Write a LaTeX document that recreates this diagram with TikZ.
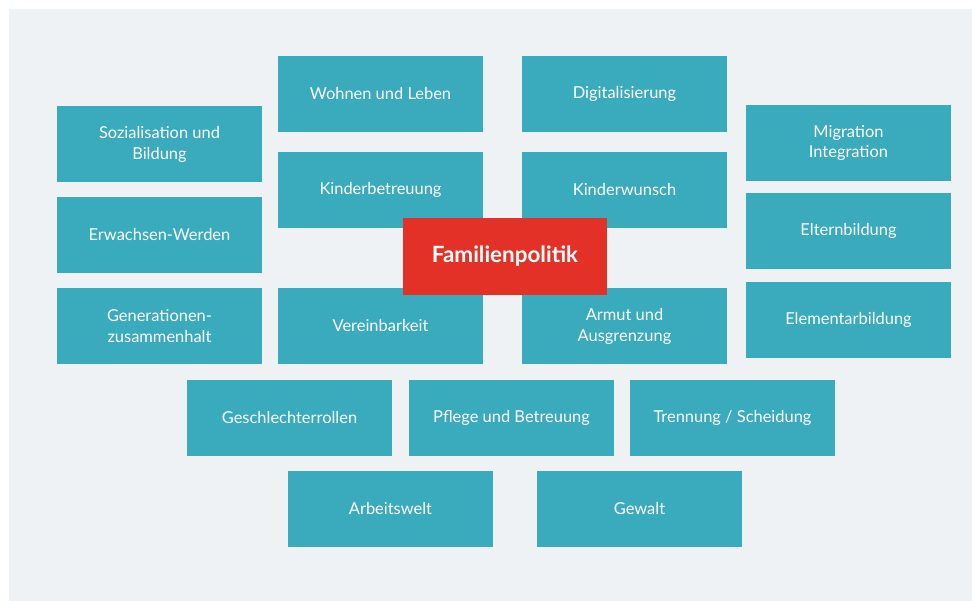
\documentclass[tikz,border=0pt]{standalone}
\usepackage{fontspec}
\setmainfont{Lato}
\usetikzlibrary{positioning}
\definecolor{famteal}{HTML}{3AAABD}
\definecolor{famred}{HTML}{E33127}
\definecolor{fambg}{HTML}{EEF2F5}

\begin{document}
\begin{tikzpicture}[x=1bp, y=-1bp,
		font=\fontsize{16.5}{21}\selectfont,
		topic/.style={fill=famteal, text=white, align=center, inner sep=0pt,
				minimum width=205bp, minimum height=76bp},
		core/.style={fill=famred, text=white, inner sep=0pt,
				minimum width=204bp, minimum height=77bp,
				font=\fontsize{22.5}{26}\selectfont\bfseries}]
	\useasboundingbox (0,0) rectangle (972,601);
	\fill[fambg] (9,9) rectangle (972,601);

	% left column
	\node[topic] (soz) at (159.5, 144) {Sozialisation und\\Bildung};
	\node[topic] (erw) at (159.5, 235) {Erwachsen-Werden};
	\node[topic] (gen) at (159.5, 326) {Generationen-\\zusammenhalt};

	% inner columns
	\node[topic] (wohnen) at (380.5, 94) {Wohnen und Leben};
	\node[topic] (kbetr) at (380.5, 190) {Kinderbetreuung};
	\node[topic] (verein) at (380.5, 326) {Vereinbarkeit};
	\node[topic] (digi) at (624.5, 94) {Digitalisierung};
	\node[topic] (kwunsch) at (624.5, 190) {Kinderwunsch};
	\node[topic] (armut) at (624.5, 326) {Armut und\\Ausgrenzung};

	% right column
	\node[topic] (migr) at (848.5, 143) {Migration\\Integration};
	\node[topic] (eltern) at (848.5, 231) {Elternbildung};
	\node[topic] (element) at (848.5, 320) {Elementarbildung};

	% bottom rows
	\node[topic] (geschl) at (289.5, 418) {Geschlechterrollen};
	\node[topic] (pflege) at (511.5, 418) {Pflege und Betreuung};
	\node[topic] (trenn) at (732.5, 418) {Trennung / Scheidung};
	\node[topic] (arbeit) at (390.5, 509) {Arbeitswelt};
	\node[topic] (gewalt) at (639.5, 509) {Gewalt};

	\node[core] (fam) at (505, 256.5) {Familienpolitik};
\end{tikzpicture}
\end{document}
